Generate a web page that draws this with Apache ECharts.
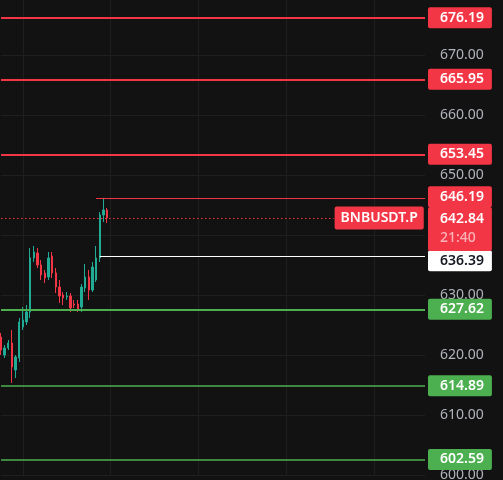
<!DOCTYPE html>
<html><head><meta charset="utf-8">
<script src="https://cdn.jsdelivr.net/npm/echarts@6/dist/echarts.min.js"></script>
<style>html,body{margin:0;padding:0;background:#121212}#c{width:503px;height:480px}</style>
</head><body><div id="c"></div>
<script>
// OHLC candles (15-min style)
const opens  = [623.00,620.00,621.17,622.00,617.50,619.50,624.67,625.50,627.17,636.17,637.00,635.00,633.67,633.00,636.50,633.67,631.33,630.00,629.67,629.83,628.50,628.50,628.00,631.17,633.00,630.83,632.50,636.17,643.33,644.17];
const closes = [620.83,621.17,622.00,618.00,619.67,625.50,625.83,627.17,636.17,637.17,635.00,633.33,632.83,636.17,633.67,631.33,629.83,629.50,629.83,627.83,628.33,627.67,631.33,633.00,630.83,634.67,636.17,643.33,644.17,642.84];
const lows   = [620.00,619.50,620.83,615.33,616.17,618.83,624.17,625.00,626.17,635.50,634.50,632.50,632.00,632.50,632.83,630.33,628.67,628.33,629.17,627.17,627.83,627.17,627.17,630.50,629.17,630.50,632.17,635.50,642.17,642.00];
const highs  = [623.67,621.67,622.50,624.17,620.00,626.17,628.00,628.33,637.83,638.17,637.83,635.83,634.17,637.17,637.17,634.50,632.50,630.50,630.50,630.33,629.17,629.17,631.83,635.17,634.17,635.50,638.17,643.83,646.19,644.50];
const totalSlots = 117;          // empty future space to the right
const resistanceLevels = [676.19, 665.95, 653.45];
const resistanceWidths = [2, 2, 2];
const supportLevels = [627.62, 614.89, 602.59];
const supportWidths = [2, 1.5, 1.5];
const recentHigh = 646.19, recentHighFrom = 26;
const pivotLevel = 636.39, pivotFrom = 27;
const lastPrice = 642.84;
const symbolName = 'BNBUSDT.P';
const countdown = '21:40';
const symbolLabelAt = 91;
const yMin = 600, yMax = 680, yStep = 10;

const RED = '#f23645', GREEN = '#4caf50', UP = '#22ab94';
const FONT = '"Noto Sans", sans-serif';

const categories = [];
for (let i = 0; i < totalSlots; i++) categories.push(String(i));
const candles = categories.map((c, i) => i < opens.length ? [opens[i], closes[i], lows[i], highs[i]] : '-');

function boxLabel(bg, fg, text, extra) {
  return Object.assign({
    show: true, position: 'end', distance: 3, formatter: text,
    backgroundColor: bg, color: fg, fontSize: 14, fontWeight: 600, fontFamily: FONT,
    padding: [4, 8, 3, 12], borderRadius: 2
  }, extra || {});
}

const mlData = [];
resistanceLevels.forEach((v, i) => mlData.push({
  yAxis: v, lineStyle: { color: RED, width: resistanceWidths[i], type: 'solid', opacity: 1 },
  label: boxLabel(RED, '#fff', v.toFixed(2))
}));
supportLevels.forEach((v, i) => mlData.push({
  yAxis: v, lineStyle: { color: GREEN, width: supportWidths[i], type: 'solid', opacity: 1 },
  label: boxLabel(GREEN, '#fff', v.toFixed(2))
}));
mlData.push([
  { coord: [categories[recentHighFrom], recentHigh], lineStyle: { color: RED, width: 1, type: 'solid' },
    label: boxLabel(RED, '#fff', recentHigh.toFixed(2), { offset: [0, -1] }) },
  { coord: [categories[totalSlots - 1], recentHigh] }
]);
mlData.push([
  { coord: [categories[pivotFrom], pivotLevel], lineStyle: { color: '#ffffff', width: 1, type: 'solid' },
    label: boxLabel('#ffffff', '#131722', pivotLevel.toFixed(2), { offset: [0, 4] }) },
  { coord: [categories[totalSlots - 1], pivotLevel] }
]);
mlData.push([
  { coord: [categories[0], lastPrice], lineStyle: { color: RED, width: 1, type: [1.5, 2.5] },
    label: boxLabel(RED, '#fff', symbolName, { distance: 1, padding: [5, 6, 4, 6] }) },
  { coord: [categories[symbolLabelAt], lastPrice] }
]);
mlData.push({
  yAxis: lastPrice, lineStyle: { width: 1, color: 'rgba(0,0,0,0)', type: 'solid' },
  label: boxLabel(RED, '#fff', '{p|' + lastPrice.toFixed(2) + '}\n{t|' + countdown + '}', {
    offset: [0, 11], padding: [3, 8, 3, 12], lineHeight: 19,
    rich: { p: { color: '#fff', fontSize: 14, fontWeight: 600, fontFamily: FONT, lineHeight: 19 },
            t: { color: '#f9b3b9', fontSize: 14, fontWeight: 500, fontFamily: FONT, lineHeight: 19 } }
  })
});

const chart = echarts.init(document.getElementById('c'), null, { renderer: 'canvas' });
chart.setOption({
  backgroundColor: '#121212',
  animation: false,
  grid: { left: 1, right: 78, top: -5, bottom: 5, containLabel: false, outerBoundsMode: 'none' },
  xAxis: {
    type: 'category', data: categories, boundaryGap: false,
    axisLine: { show: false }, axisTick: { show: false }, axisLabel: { show: false },
    splitLine: { show: true, interval: (i) => i % 24 === 6, lineStyle: { color: '#1f1f1f', width: 1 } }
  },
  yAxis: {
    type: 'value', position: 'right', min: yMin, max: yMax, interval: yStep,
    axisLine: { show: false }, axisTick: { show: false },
    axisLabel: { color: '#b2b5be', fontSize: 14, fontFamily: FONT, margin: 15, formatter: (v) => v.toFixed(2) },
    splitLine: { lineStyle: { color: '#1f1f1f', width: 1 } }
  },
  series: [{
    type: 'candlestick', data: candles,
    itemStyle: { color: UP, color0: RED, borderColor: UP, borderColor0: RED, borderWidth: 1 },
    markLine: { silent: true, symbol: ['none', 'none'], animation: false, data: mlData }
  }]
});
</script></body></html>
